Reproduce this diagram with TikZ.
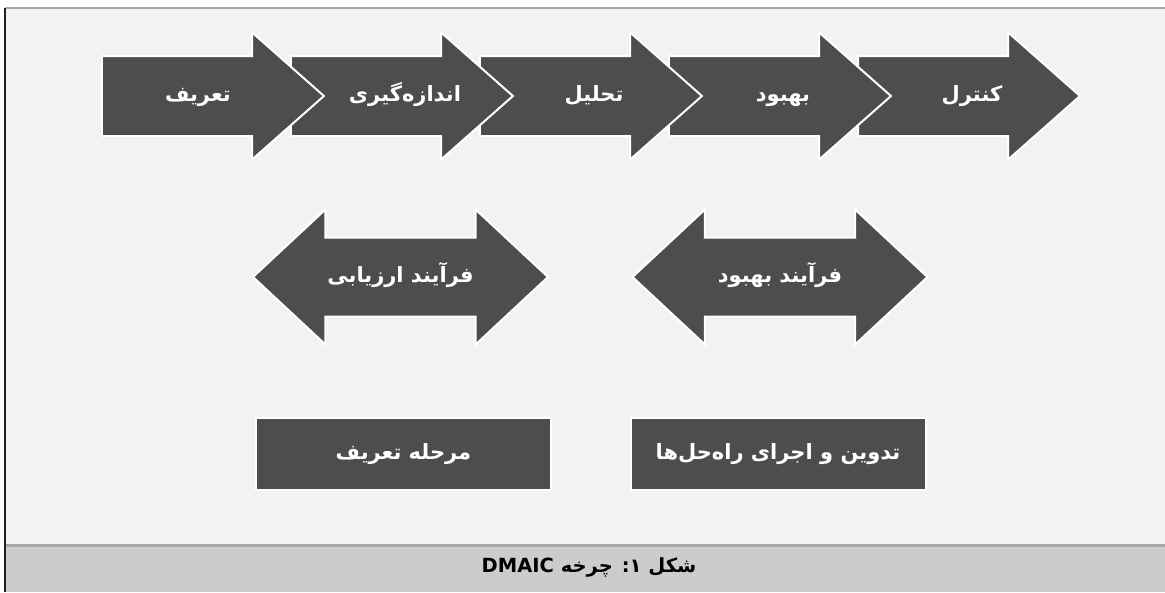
\documentclass[tikz,border=0pt]{standalone}
\usepackage{fontspec}
\usepackage{tikz}
\usetikzlibrary{positioning,shapes.arrows}
\TeXXeTstate=1
\newfontfamily\fafont[Script=Arabic]{DejaVu Sans}
\definecolor{shapegray}{HTML}{4D4D4D}
\definecolor{paper}{HTML}{F2F2F2}
\definecolor{band}{HTML}{CCCCCC}
\definecolor{rulegray}{HTML}{A6A6A6}
\definecolor{framedark}{HTML}{1F1F1F}
\tikzset{
  stage/.style={single arrow,draw=white,line width=2pt,fill=shapegray,
    minimum height=222pt,single arrow head extend=23.5pt,
    single arrow tip angle=83,inner xsep=0pt,inner ysep=39pt,outer sep=0pt},
  phase/.style={double arrow,draw=white,line width=2pt,fill=shapegray,
    minimum height=295pt,double arrow head extend=28pt,
    double arrow tip angle=86,inner xsep=0pt,inner ysep=38.5pt,outer sep=0pt},
  taskbox/.style={rectangle,draw=white,line width=2pt,fill=shapegray,
    minimum width=295pt,minimum height=72pt,inner sep=0pt},
  lbl/.style={text=white,font=\fafont\bfseries\fontsize{21}{24}\selectfont,
    text height=15pt,text depth=5pt,inner sep=0pt},
  captext/.style={text=black,font=\fafont\bfseries\fontsize{19.5}{22}\selectfont,
    text height=14pt,text depth=5pt,inner sep=0pt}
}
\begin{document}
\begin{tikzpicture}[x=1pt,y=-1pt]
  \useasboundingbox (0,0) rectangle (1165,592);
  % frame and caption band
  \fill[white] (0,0) rectangle (1165,592);
  \fill[paper] (5,8) rectangle (1165,545);
  \fill[band] (5,545) rectangle (1165,592);
  \draw[rulegray,line width=3pt] (5,545) -- (1165,545);
  \draw[rulegray,line width=2pt] (5,8) -- (1165,8);
  \draw[framedark,line width=2pt] (5,8) -- (5,592);
  % DMAIC steps, right to left so the left heads lie on top
  \node[stage,anchor=tail] (control) at (858,96) {};
  \node[stage,left=-33pt of control] (improve) {};
  \node[stage,left=-33pt of improve] (analyse) {};
  \node[stage,left=-33pt of analyse] (measure) {};
  \node[stage,left=-33pt of measure] (define) {};
  \node[lbl] (tdefine) at ([xshift=96pt]define.tail) {\beginR تعریف\endR};
  \node[lbl] (tmeasure) at ([xshift=114pt]measure.tail) {\beginR اندازه‌گیری\endR};
  \node[lbl] (tanalyse) at ([xshift=114pt]analyse.tail) {\beginR تحلیل\endR};
  \node[lbl] (timprove) at ([xshift=114pt]improve.tail) {\beginR بهبود\endR};
  \node[lbl] (tcontrol) at ([xshift=114pt]control.tail) {\beginR کنترل\endR};
  % processes
  \node[phase] (assess) at (400.5,277) {};
  \node[phase] (better) at (780,277) {};
  \node[lbl] (tassess) at (assess) {\beginR فرآیند ارزیابی\endR};
  \node[lbl] (tbetter) at (better) {\beginR فرآیند بهبود\endR};
  % tasks
  \node[taskbox] (stagedef) at (403.5,454) {};
  \node[taskbox] (solutions) at (778,454) {};
  \node[lbl] (tstagedef) at (stagedef) {\beginR مرحله تعریف\endR};
  \node[lbl] (tsolutions) at (solutions) {\beginR تدوین و اجرای راه‌حل‌ها\endR};
  % caption
  \node[captext] (caption) at (589,568) {\beginR شکل ۱: چرخه \beginL DMAIC\endL\endR};
\end{tikzpicture}
\end{document}
